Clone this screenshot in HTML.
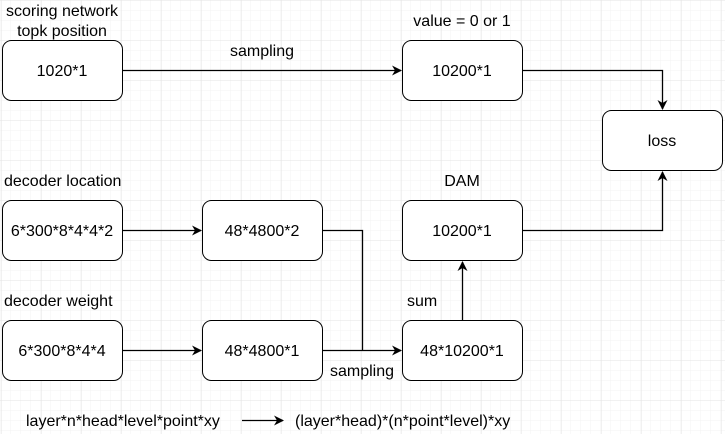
<!DOCTYPE html>
<html><head><meta charset="utf-8"><style>
body{margin:0}
svg text{font-family:"Liberation Sans",Arial,sans-serif;font-size:16px;fill:#000}
</style></head><body>
<svg width="725" height="434" xmlns="http://www.w3.org/2000/svg">
<defs>
<pattern id="g" width="10" height="10" patternUnits="userSpaceOnUse" x="1" y="1">
<path d="M10 0V10M0 10H10" fill="none" stroke="#f3f3f3" stroke-width="1"/></pattern>
<pattern id="G" width="40" height="40" patternUnits="userSpaceOnUse" x="1.5" y="0.5">
<path d="M0 0V40M0 0H40" fill="none" stroke="#e3e3e3" stroke-width="1"/></pattern>
<marker id="a" markerWidth="10" markerHeight="10" refX="9" refY="5" orient="auto" markerUnits="userSpaceOnUse">
<path d="M0,0 L10,5 L0,10 L3,5 Z" fill="#000"/></marker>
</defs>
<rect width="725" height="434" fill="#fff"/>
<rect width="725" height="434" fill="url(#g)"/>
<rect width="725" height="434" fill="url(#G)"/>
<g fill="#fff" stroke="#000" stroke-width="1">
<rect x="2.5" y="40.5" width="120" height="60" rx="9"/>
<rect x="402.5" y="40.5" width="120" height="60" rx="9"/>
<rect x="602.5" y="110.5" width="120" height="60" rx="9"/>
<rect x="2.5" y="200.5" width="120" height="60" rx="9"/>
<rect x="202.5" y="200.5" width="120" height="60" rx="9"/>
<rect x="402.5" y="200.5" width="120" height="60" rx="9"/>
<rect x="2.5" y="320.5" width="120" height="60" rx="9"/>
<rect x="202.5" y="320.5" width="120" height="60" rx="9"/>
<rect x="402.5" y="320.5" width="120" height="60" rx="9"/>
</g>
<g fill="none" stroke="#000" stroke-width="1.3">
<path d="M122.5 70.5H401" marker-end="url(#a)"/>
<path d="M522.5 70.5H662.5V109" marker-end="url(#a)"/>
<path d="M522.5 230.5H662.5V172" marker-end="url(#a)"/>
<path d="M122.5 230.5H201" marker-end="url(#a)"/>
<path d="M322.5 230.5H362.5V350.5"/>
<path d="M122.5 350.5H201" marker-end="url(#a)"/>
<path d="M322.5 350.5H401" marker-end="url(#a)"/>
<path d="M462.5 320.5V262" marker-end="url(#a)"/>
<path d="M242 420.5H283" marker-end="url(#a)"/>
</g>
<g text-anchor="middle">
<text x="62" y="76">1020*1</text>
<text x="462" y="76">10200*1</text>
<text x="662" y="146">loss</text>
<text x="62" y="236">6*300*8*4*4*2</text>
<text x="262" y="236">48*4800*2</text>
<text x="462" y="236">10200*1</text>
<text x="62" y="356">6*300*8*4*4</text>
<text x="262" y="356">48*4800*1</text>
<text x="462" y="356">48*10200*1</text>
<text x="62" y="16">scoring network</text>
<text x="62" y="36">topk position</text>
<text x="262" y="56">sampling</text>
<text x="462" y="26">value = 0 or 1</text>
<text x="462" y="186">DAM</text>
<text x="362" y="376">sampling</text>
</g>
<text x="4" y="186">decoder location</text>
<text x="4" y="306">decoder weight</text>
<text x="407" y="306">sum</text>
<text x="26" y="426">layer*n*head*level*point*xy</text>
<text x="295" y="426">(layer*head)*(n*point*level)*xy</text>
</svg>
</body></html>
